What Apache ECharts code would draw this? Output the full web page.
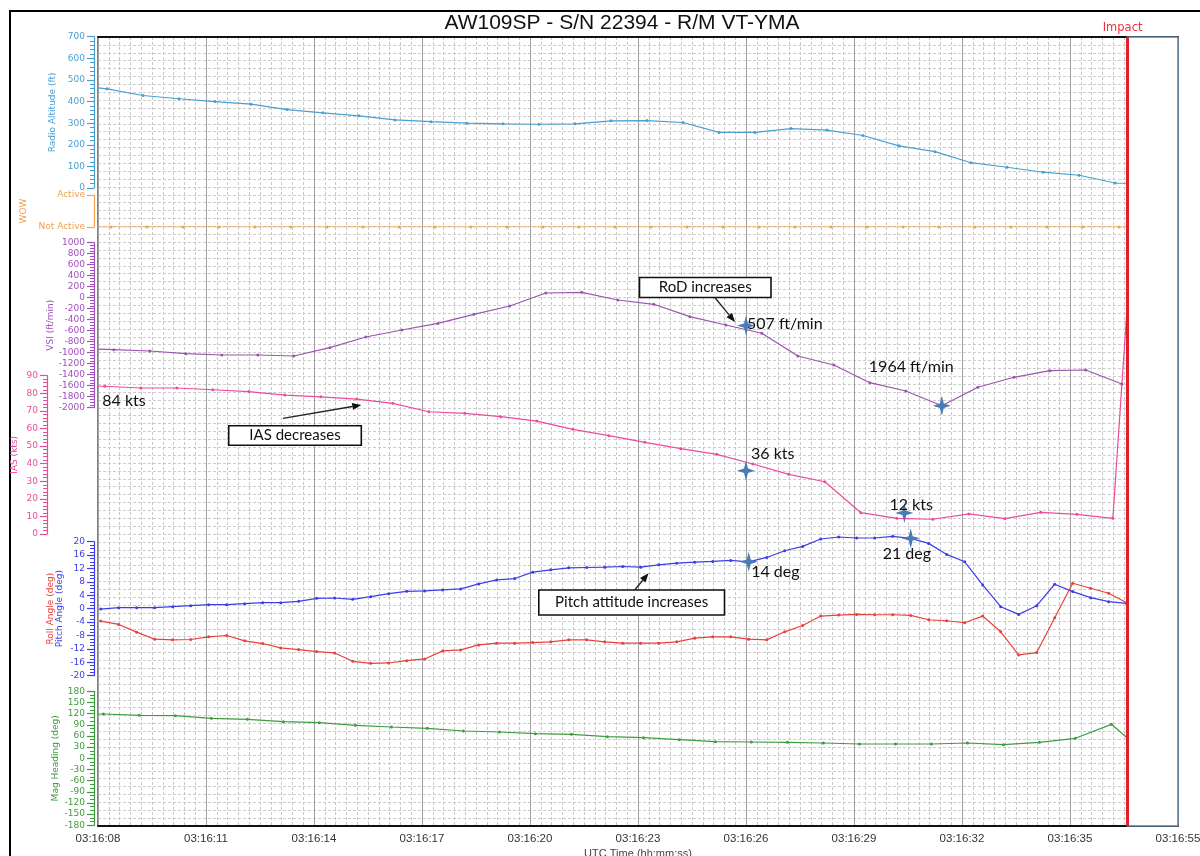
<!DOCTYPE html>
<html>
<head>
<meta charset="utf-8">
<script src="https://cdn.jsdelivr.net/npm/echarts@6.0.0/dist/echarts.min.js"></script>
<style>
  html, body { margin: 0; padding: 0; background: #fff; }
  #chart { width: 1200px; height: 856px; }
</style>
</head>
<body>
<div id="chart"></div>
<script>
// Flight data plot, AW109SP S/N 22394, last seconds before impact.
// Time is counted in seconds after 03:16:08 UTC.
const timeLabels = ['03:16:08', '03:16:11', '03:16:14', '03:16:17', '03:16:20', '03:16:23',
                    '03:16:26', '03:16:29', '03:16:32', '03:16:35', '03:16:55'];
const IMPACT_T = 28.6;

// Radio altitude (ft), 1 Hz
const radioAltT0 = 0.25;
const radioAlt = [459, 428, 413, 400, 388, 363, 348, 334, 315, 307, 300, 297, 295, 297, 311,
                  312, 303, 257, 257, 275, 268, 243, 195, 168, 117, 96, 73, 59, 23];
const radioAltEdge = 463, radioAltImpact = 22;

// Weight on wheels (0 = Not Active, 1 = Active), 1 Hz
const wowT0 = 0.36;
const wow = [0, 0, 0, 0, 0, 0, 0, 0, 0, 0, 0, 0, 0, 0, 0, 0, 0, 0, 0, 0, 0, 0, 0, 0, 0, 0, 0, 0, 0];
const wowEdge = 0, wowImpact = 0;

// Vertical speed (ft/min), 1 Hz
const vsiT0 = 0.44;
const vsi = [-945, -969, -1018, -1042, -1042, -1060, -909, -715, -587, -467, -303, -151, 85, 98,
             -42, -120, -345, -496, -647, -1060, -1224, -1545, -1696, -1964, -1629, -1447, -1327,
             -1315, -1569];
const vsiEdge = -935;

// Indicated airspeed (kts), 1 Hz
const iasT0 = 0.19;
const ias = [84, 83, 83, 82, 81, 79, 78, 76.7, 74.3, 69.5, 68.6, 66.7, 64.2, 59.5, 55.9, 52.1,
             48.5, 45.3, 39.8, 33.9, 29.7, 12.1, 8.9, 8.4, 11.4, 8.7, 12.3, 11.2, 8.9];
const iasEdge = 84, iasImpact = 133;

// Pitch and roll attitude (deg), 2 Hz
const attT0 = 0.075;
const pitch = [-0.1, 0.3, 0.3, 0.3, 0.6, 0.9, 1.2, 1.2, 1.5, 1.8, 1.8, 2.2, 3.1, 3.2, 2.8, 3.6,
               4.5, 5.2, 5.3, 5.6, 5.9, 7.4, 8.6, 9.0, 10.9, 11.6, 12.2, 12.3, 12.4, 12.6, 12.4,
               13.1, 13.6, 13.9, 14.1, 14.4, 14, 15.3, 17.3, 18.6, 20.8, 21.4, 21.1, 21.1, 21.6,
               21, 19.5, 16.2, 14.0, 7.1, 0.6, -1.7, 0.9, 7.3, 5.1, 3.3, 2.1, 1.6];
const roll = [-3.7, -4.7, -7.0, -9.1, -9.3, -9.2, -8.4, -8.0, -9.6, -10.4, -11.7, -12.2, -12.8,
              -13.2, -15.7, -16.3, -16.2, -15.5, -15.0, -12.6, -12.3, -10.8, -10.3, -10.3, -10.1,
              -9.9, -9.3, -9.3, -9.9, -10.3, -10.3, -10.3, -9.9, -8.8, -8.4, -8.4, -9.1, -9.3,
              -6.9, -5.0, -2.2, -1.9, -1.7, -1.8, -1.8, -2.0, -3.3, -3.6, -4.2, -2.2, -6.9,
              -13.8, -13.1, -2.7, 7.6, 6.1, 4.6, 1.8];

// Magnetic heading (deg), 1 Hz
const headingT0 = 0.15;
const heading = [119, 115.5, 114.4, 107.5, 104.8, 98.3, 95.7, 88.7, 84.1, 80.6, 73.3, 70.7, 66.1,
                 64.5, 58.0, 55.4, 50.0, 44.6, 43.8, 43.0, 41.1, 38.4, 38.4, 38.4, 41.1, 36.5,
                 43.0, 53.7, 91.3];
const headingEdge = 119, headingImpact = 54;

// Highlighted readings: [time, value]
const rodPoints = [[18, -507], [23.44, -1964]];
const iasPoints = [[18, 36], [22.4, 12]];
const pitchPoints = [[18.075, 14], [22.575, 21]];
const iasStart = [0.19, 84];

// ---- helpers ----
function track(t0, step, values, edge, impact) {
  const pts = [];
  if (edge !== undefined && edge !== null) pts.push({ value: [0, edge], symbol: 'none' });
  values.forEach((v, i) => pts.push([+(t0 + i * step).toFixed(3), v]));
  if (impact !== undefined && impact !== null) pts.push({ value: [IMPACT_T, impact], symbol: 'none' });
  return pts;
}

const C = {
  ra: '#4a9fd0', wow: '#f5a04e', vsi: '#9a55ad', vsiText: '#a24fbf', ias: '#ec4b9d',
  pitch: '#3d3de6', roll: '#e8413d', hdg: '#3f9b3f', star: '#4a7bb5'
};
const AX_FONT = 'DejaVu Sans';
const NOTE_FONT = 'Lato';
const STAR = 'path://M0,-10 L2.2,-2.2 L10,0 L2.2,2.2 L0,10 L-2.2,2.2 L-10,0 L-2.2,-2.2 Z';

function panelAxis(grid, min, max, interval, minorSplit, color, name, nameGap, extra) {
  return Object.assign({
    gridIndex: grid, type: 'value', position: 'left', min, max, interval, offset: 4,
    name, nameLocation: 'middle', nameGap, nameMoveOverlap: false,
    nameTextStyle: { color, fontFamily: AX_FONT, fontSize: 9 },
    axisLine: { show: true, onZero: false, lineStyle: { color, width: 1.2 } },
    axisTick: { show: true, length: 7, lineStyle: { color, width: 1.2 } },
    minorTick: { show: minorSplit > 1, splitNumber: minorSplit || 1, length: 4, lineStyle: { color, width: 1 } },
    axisLabel: { color, fontFamily: AX_FONT, fontSize: 9, margin: 9, formatter: v => String(v) },
    splitLine: { show: false }
  }, extra || {});
}

function lineSeries(name, xi, yi, color, data, extra) {
  return Object.assign({
    name, type: 'line', xAxisIndex: xi, yAxisIndex: yi, data,
    symbol: 'circle', symbolSize: 3, showSymbol: true, showAllSymbol: true,
    lineStyle: { color, width: 1.2 }, itemStyle: { color },
    emphasis: { disabled: true }, z: 3
  }, extra || {});
}

// star markers with their value labels
function starSeries(name, xi, yi, points, unit, offsets, useAbs) {
  return {
    name, type: 'scatter', xAxisIndex: xi, yAxisIndex: yi, clip: false, z: 6,
    symbol: STAR, symbolSize: [18, 20], itemStyle: { color: C.star, opacity: 1 },
    emphasis: { disabled: true },
    label: {
      show: true, color: '#111', opacity: 1, fontFamily: NOTE_FONT, fontSize: 16,
      align: 'left', verticalAlign: 'middle',
      formatter: p => (useAbs ? Math.abs(p.value[1]) : p.value[1]) + ' ' + unit
    },
    data: points.map((p, i) => ({ value: p, label: { position: offsets[i] } }))
  };
}

const panelGrid = (top, height) => ({
  left: 98, right: 22, top, height, containLabel: false, outerBoundsMode: 'none'
});
const hiddenX = g => ({ gridIndex: g, type: 'value', min: 0, max: 30, show: false });

const option = {
  animation: false,
  backgroundColor: '#fff',
  title: {
    text: 'AW109SP - S/N 22394 - R/M VT-YMA',
    left: 617, top: 8, textAlign: 'center',
    textStyle: { fontFamily: 'Liberation Sans', fontSize: 21, fontWeight: 'normal', color: '#111' }
  },
  grid: [
    { left: 98, right: 22, top: 37, bottom: 30, show: true, borderColor: '#333', borderWidth: 1.2,
      containLabel: false, outerBoundsMode: 'none' },
    panelGrid(36.7, 151.3),
    panelGrid(195, 32),
    panelGrid(242.7, 165),
    panelGrid(375.7, 158.3),
    panelGrid(541.7, 134),
    panelGrid(691.3, 134)
  ],
  xAxis: [
    {
      gridIndex: 0, type: 'value', min: 0, max: 30, interval: 3,
      name: 'UTC Time (hh:mm:ss)', nameLocation: 'middle', nameGap: 22, nameMoveOverlap: false,
      nameTextStyle: { color: '#444', fontFamily: 'Liberation Sans', fontSize: 11 },
      axisLine: { onZero: false, lineStyle: { color: '#111', width: 2 } },
      axisTick: { show: false },
      axisLabel: {
        color: '#333', fontFamily: 'Liberation Sans', fontSize: 11.5, margin: 7,
        formatter: v => timeLabels[Math.round(v / 3)]
      },
      splitLine: { show: true, lineStyle: { color: '#a0a0a0', width: 1 } },
      minorTick: { show: false, splitNumber: 10 },
      minorSplitLine: { show: true, lineStyle: { color: '#c8c8c8', width: 1, type: [3, 2] } }
    },
    hiddenX(1), hiddenX(2), hiddenX(3), hiddenX(4), hiddenX(5), hiddenX(6),
    {
      // heavy top edge of the plot frame
      gridIndex: 0, type: 'value', min: 0, max: 30, position: 'top',
      axisLine: { show: true, onZero: false, lineStyle: { color: '#111', width: 2 } },
      axisTick: { show: false }, axisLabel: { show: false }, splitLine: { show: false }
    }
  ],
  yAxis: [
    {
      gridIndex: 0, type: 'value', min: 0, max: 100, interval: 1,
      axisLine: { show: false, onZero: false }, axisTick: { show: false }, axisLabel: { show: false },
      splitLine: { show: true, lineStyle: { color: '#cdcdcd', width: 1, type: [3, 2] } }
    },
    panelAxis(1, 0, 700, 100, 5, C.ra, 'Radio Altitude (ft)', 37),
    panelAxis(2, 0, 1, 1, 0, C.wow, 'WOW', 66, {
      axisLabel: { color: C.wow, fontFamily: AX_FONT, fontSize: 9, margin: 9,
                   formatter: v => (v === 1 ? 'Active' : 'Not Active') }
    }),
    panelAxis(3, -2000, 1000, 200, 4, C.vsiText, 'VSI (ft/min)', 39),
    panelAxis(4, 0, 90, 10, 5, C.ias, 'IAS (kts)', 28, { offset: 51 }),
    panelAxis(5, -20, 20, 4, 4, C.pitch, 'Pitch Angle (deg)', 30),
    panelAxis(5, -20, 20, 4, 0, C.roll, 'Roll Angle (deg)', 39, {
      axisLine: { show: false, onZero: false }, axisTick: { show: false }, axisLabel: { show: false },
      minorTick: { show: false }
    }),
    panelAxis(6, -180, 180, 30, 3, C.hdg, 'Mag Heading (deg)', 34)
  ],
  series: [
    {
      // impact marker and the blank span after it
      type: 'line', xAxisIndex: 0, yAxisIndex: 0, data: [], silent: true,
      markArea: {
        silent: true,
        itemStyle: { color: '#ffffff', borderColor: '#5b7c9e', borderWidth: 1.5 },
        data: [[{ xAxis: IMPACT_T, yAxis: 0 }, { xAxis: 30, yAxis: 100 }]]
      },
      markLine: {
        silent: true, symbol: 'none',
        lineStyle: { color: '#e01f2b', width: 3, type: 'solid' },
        label: { show: true, position: 'end', formatter: 'Impact', color: '#e8323e',
                 fontFamily: AX_FONT, fontSize: 11.5, distance: 3, offset: [-5, 0] },
        data: [{ xAxis: IMPACT_T }]
      },
      z: 4
    },
    lineSeries('Radio Altitude', 1, 1, C.ra, track(radioAltT0, 1, radioAlt, radioAltEdge, radioAltImpact)),
    lineSeries('WOW', 2, 2, C.wow, track(wowT0, 1, wow, wowEdge, wowImpact)),
    lineSeries('VSI', 3, 3, C.vsi, track(vsiT0, 1, vsi, vsiEdge, null)),
    lineSeries('IAS', 4, 4, C.ias, track(iasT0, 1, ias, iasEdge, iasImpact), {
      clip: false,
      markPoint: {
        symbol: 'circle', symbolSize: 1, itemStyle: { color: 'rgba(0,0,0,0)' },
        label: { show: true, color: '#111', fontFamily: NOTE_FONT, fontSize: 16,
                 align: 'left', verticalAlign: 'middle', position: [-2, 15],
                 formatter: p => p.value + ' kts' },
        data: [{ coord: iasStart, value: iasStart[1] }]
      }
    }),
    lineSeries('Pitch', 5, 5, C.pitch, track(attT0, 0.5, pitch), { clip: false }),
    lineSeries('Roll', 5, 6, C.roll, track(attT0, 0.5, roll)),
    lineSeries('Mag Heading', 6, 7, C.hdg, track(headingT0, 1, heading, headingEdge, headingImpact)),
    starSeries('RoD', 3, 3, rodPoints, 'ft/min', [[10, 8], [-64, -29]], true),
    starSeries('IAS marks', 4, 4, iasPoints, 'kts', [[14, -7], [-6, 2]], false),
    starSeries('Pitch marks', 5, 5, pitchPoints, 'deg', [[11.5, 20], [-19, 25]], false)
  ]
};

// ---- callout boxes and arrows ----
function arrow(x1, y1, x2, y2) {
  const a = Math.atan2(y2 - y1, x2 - x1), L = 9, W = 3.6;
  const bx = x2 - L * Math.cos(a), by = y2 - L * Math.sin(a);
  return [
    { type: 'line', z: 100, silent: true, shape: { x1, y1, x2: bx, y2: by },
      style: { stroke: '#222', lineWidth: 1.3 } },
    { type: 'polygon', z: 100, silent: true,
      shape: { points: [[x2, y2], [bx - W * Math.sin(a), by + W * Math.cos(a)],
                        [bx + W * Math.sin(a), by - W * Math.cos(a)]] },
      style: { fill: '#111' } }
  ];
}
function callout(x, y, w, h, text) {
  return [
    { type: 'rect', z: 100, silent: true, shape: { x, y, width: w, height: h },
      style: { fill: '#fff', stroke: '#111', lineWidth: 1.6 } },
    { type: 'text', z: 101, silent: true, x: x + w / 2, y: y + h / 2,
      style: { text, fill: '#111', fontFamily: NOTE_FONT, fontSize: 15,
               align: 'center', verticalAlign: 'middle' } }
  ];
}

option.graphic = [
  // outer frame
  { type: 'rect', z: 0, silent: true, shape: { x: 10, y: 11, width: 1200, height: 900 },
    style: { fill: 'none', stroke: '#000', lineWidth: 2 } },
  ...callout(639.5, 277.5, 131.5, 20, 'RoD increases'),
  ...arrow(714.8, 297.5, 735, 322),
  ...callout(228.7, 425.7, 132.6, 19.5, 'IAS decreases'),
  ...arrow(283, 418.3, 361.3, 405),
  ...callout(538.8, 590, 185.7, 25, 'Pitch attitude increases'),
  ...arrow(634.7, 590, 648.5, 573.3)
];

const chart = echarts.init(document.getElementById('chart'), null, { renderer: 'canvas' });
chart.setOption(option);
</script>
</body>
</html>
